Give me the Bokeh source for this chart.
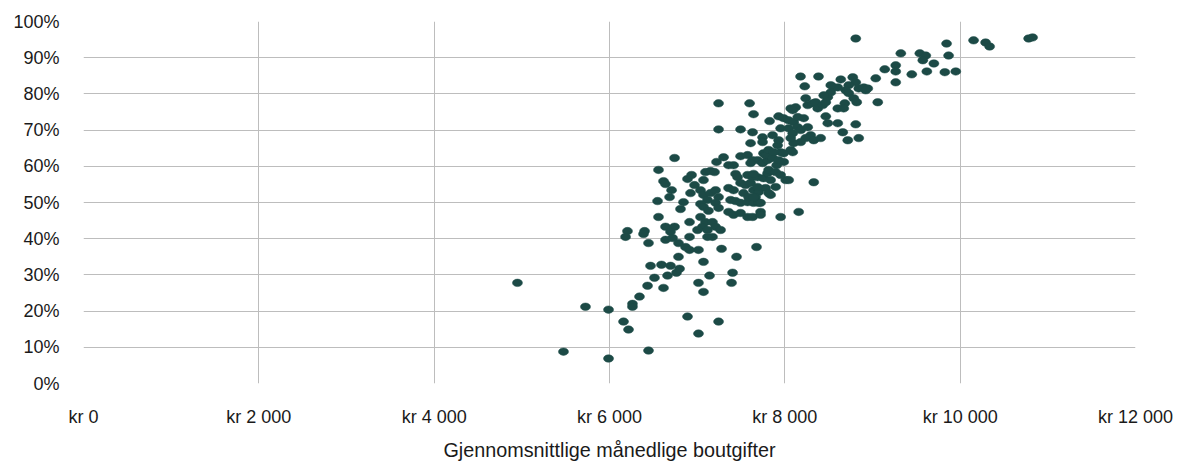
from bokeh.plotting import figure
from bokeh.models import Range1d, FixedTicker
from bokeh.embed import file_html
from bokeh.resources import INLINE

# Average monthly housing cost (kr) and share (%)
monthly_cost = [
    4950, 5726, 5475, 5989, 5989, 6160, 6217, 6445, 6890, 7015, 7244, 6262, 6262, 6342, 6434, 6616,
    6513, 6662, 6764, 6799, 6468, 6593, 6696, 7015, 7072, 7141, 7072, 7392, 7404, 7449, 7278, 7677,
    6742, 6559, 6616, 6639, 6708, 6685, 6548, 6559, 6205, 6183, 6400, 6388, 6445, 6639, 6742, 6696,
    6639, 6719, 6787, 6867, 6913, 7015, 6787, 6913, 6913, 6810, 6844, 6924, 6890, 6936, 6970, 7072,
    7095, 7152, 7198, 7221, 7301, 7358, 7415, 7438, 7461, 7358, 7415, 7038, 7072, 7118, 7038, 7072,
    7129, 7152, 7210, 7244, 7210, 7244, 7038, 7095, 7061, 7004, 7118, 7175, 7210, 7267, 7118, 7175,
    7381, 7438, 7495, 7575, 7643, 7700, 7358, 7415, 7495, 7575, 7632, 7723, 7723, 7495, 7575, 7632,
    7689, 7746, 7803, 7757, 7575, 7632, 7689, 7757, 7803, 7815, 7495, 7552, 7609, 7643, 7700, 7780,
    7529, 7586, 7666, 8090, 7987, 7907, 8010, 8044, 8330, 7838, 7895, 7723, 7952, 8158, 7780, 7860,
    7895, 7838, 7952, 8179, 8384, 8227, 7244, 7598, 7643, 7244, 7495, 7632, 7826, 7929, 7986, 8044,
    8101, 8147, 8215, 8067, 8124, 8238, 8261, 8318, 8352, 8375, 8432, 8467, 8490, 8524, 8558, 8638,
    8775, 8809, 8729, 8695, 8729, 8786, 8843, 8900, 8946, 8604, 8467, 8490, 8604, 8684, 8672, 8604,
    8809, 8661, 8718, 8843, 9037, 9060, 7952, 8044, 8090, 8147, 8181, 8261, 8295, 8238, 8181, 8101,
    8330, 8409, 7746, 7860, 7746, 7609, 7815, 7918, 7952, 8067, 8524, 8923, 8444, 8820, 8090, 7929,
    8067, 7986, 7872, 7929, 7643, 7609, 7689, 7815, 7643, 9845, 10153, 10290, 10336, 10781, 10826, 9323,
    9540, 9608, 9574, 9868, 9700, 9265, 9265, 9140, 9448, 9620, 9825, 9950, 9265, 8809,
]
share_pct = [
    27.8, 21.2, 8.8, 20.4, 6.9, 17.1, 14.9, 9.1, 18.5, 13.8, 17.1, 22.0, 21.2, 24.0, 27.0, 26.4,
    29.2, 29.8, 30.6, 31.7, 32.5, 32.8, 32.5, 27.8, 25.3, 29.8, 33.6, 27.8, 30.6, 35.0, 37.2, 37.7,
    62.3, 59.0, 55.9, 55.1, 53.4, 51.5, 50.4, 46.0, 42.1, 40.5, 42.1, 41.3, 38.8, 43.3, 43.3, 41.9,
    39.7, 40.2, 38.8, 37.7, 36.9, 36.9, 35.0, 40.5, 44.6, 48.2, 50.1, 52.6, 56.5, 57.6, 54.8, 56.2,
    58.4, 58.7, 58.4, 61.2, 62.5, 60.3, 60.3, 57.9, 57.0, 54.0, 53.4, 53.4, 52.1, 50.7, 49.6, 48.8,
    47.7, 52.6, 53.4, 51.5, 49.9, 48.5, 46.0, 44.6, 43.3, 42.4, 42.4, 44.6, 43.3, 42.4, 40.5, 40.5,
    50.7, 50.4, 49.9, 50.1, 49.9, 49.9, 47.4, 46.6, 47.1, 46.0, 46.0, 47.4, 46.6, 62.8, 63.1, 61.7,
    61.7, 60.9, 61.7, 63.6, 57.6, 57.0, 57.0, 56.7, 58.1, 59.0, 55.4, 54.8, 55.4, 53.4, 52.9, 54.0,
    52.6, 51.5, 51.5, 63.9, 61.2, 60.3, 56.2, 56.2, 55.6, 52.1, 54.3, 49.9, 46.0, 47.4, 63.1, 62.3,
    58.4, 56.2, 57.6, 84.8, 84.8, 82.1, 77.4, 77.4, 74.4, 70.2, 70.2, 69.4, 72.5, 73.8, 73.3, 72.7,
    72.2, 73.6, 73.3, 76.0, 76.3, 78.8, 76.9, 77.4, 77.7, 76.0, 76.9, 77.7, 79.1, 80.4, 81.8, 84.0,
    84.6, 83.2, 82.4, 81.0, 80.2, 78.8, 81.5, 81.8, 81.5, 81.8, 73.8, 71.9, 76.0, 77.4, 76.0, 71.9,
    71.6, 69.4, 67.2, 67.8, 84.3, 77.7, 70.5, 70.5, 69.1, 70.8, 70.0, 70.8, 68.6, 67.8, 66.7, 66.4,
    67.2, 67.8, 68.0, 68.6, 66.7, 66.4, 64.5, 65.8, 63.9, 67.8, 82.4, 81.0, 79.6, 77.7, 75.5, 67.2,
    64.5, 63.6, 63.9, 61.7, 57.9, 60.9, 54.3, 52.6, 51.5, 93.9, 94.8, 94.2, 93.1, 95.3, 95.6, 91.2,
    91.2, 90.6, 89.3, 90.6, 88.4, 87.9, 86.2, 86.8, 85.4, 86.2, 86.0, 86.2, 83.2, 95.3,
]

x_ticks = [0, 2000, 4000, 6000, 8000, 10000, 12000]
x_tick_labels = ["kr 0", "kr 2 000", "kr 4 000", "kr 6 000", "kr 8 000", "kr 10 000", "kr 12 000"]
y_ticks = [0, 10, 20, 30, 40, 50, 60, 70, 80, 90, 100]
y_tick_labels = ["0%", "10%", "20%", "30%", "40%", "50%", "60%", "70%", "80%", "90%", "100%"]
x_title = "Gjennomsnittlige månedlige boutgifter"

FONT = "Liberation Sans"
TEXT = "#1a1a1a"
GRID = "#bdbdbd"
DOT = "#1c4a46"

p = figure(width=1177, height=463, output_backend="svg", toolbar_location=None,
           x_range=Range1d(0, 12000), y_range=Range1d(0, 100),
           min_border_left=83, min_border_top=21, min_border_right=42, min_border_bottom=10)
p.outline_line_color = None
p.background_fill_color = "white"
p.border_fill_color = "white"

p.ellipse(x=monthly_cost, y=share_pct, width=10, height=7.5,
          width_units="screen", height_units="screen",
          fill_color=DOT, line_color=DOT, line_width=0.5)

for ax in (p.xaxis[0], p.yaxis[0]):
    ax.axis_line_color = None
    ax.major_tick_line_color = None
    ax.minor_tick_line_color = None
    ax.major_tick_out = 0
    ax.major_tick_in = 0
    ax.minor_tick_out = 0
    ax.major_label_text_font = FONT
    ax.major_label_text_font_size = "18px"
    ax.major_label_text_color = TEXT

p.xaxis.major_label_standoff = 23
p.yaxis.major_label_standoff = 24

p.xaxis.ticker = FixedTicker(ticks=x_ticks)
p.xaxis.major_label_overrides = {t: l for t, l in zip(x_ticks, x_tick_labels)}
p.yaxis.ticker = FixedTicker(ticks=y_ticks)
p.yaxis.major_label_overrides = {t: l for t, l in zip(y_ticks, y_tick_labels)}

p.xaxis.axis_label = x_title
p.xaxis.axis_label_text_font = FONT
p.xaxis.axis_label_text_font_size = "19.8px"
p.xaxis.axis_label_text_font_style = "normal"
p.xaxis.axis_label_text_color = TEXT
p.xaxis.axis_label_standoff = 9

p.xgrid.ticker = FixedTicker(ticks=x_ticks)
p.ygrid.ticker = FixedTicker(ticks=y_ticks)
p.xgrid.grid_line_color = GRID
p.ygrid.grid_line_color = GRID
p.xgrid.grid_line_width = 1
p.ygrid.grid_line_width = 1

open("out.html", "w").write(file_html(p, INLINE))
